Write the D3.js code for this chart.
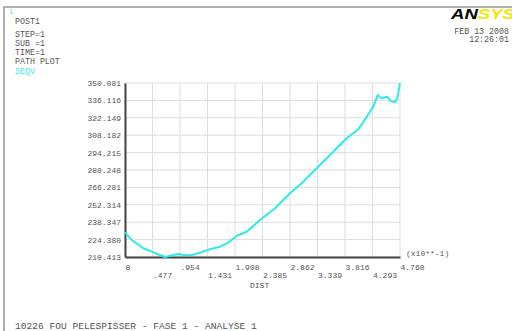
<!DOCTYPE html>
<html>
<head>
<meta charset="utf-8">
<script src="https://cdn.jsdelivr.net/npm/d3@7"></script>
<style>
  body { margin: 0; background: #fff; }
  svg { display: block; }
  text { font-family: "Liberation Mono", "DejaVu Sans Mono", monospace; fill: #555; }
</style>
</head>
<body>
<svg id="chart" width="512" height="331"></svg>
<script>
// path plot data (DIST x10**-1, SEQV)
const dist = [0, 0.116, 0.317, 0.463, 0.607, 0.694, 0.838, 0.925, 1.041, 1.157, 1.301, 1.475,
  1.648, 1.792, 1.938, 2.111, 2.342, 2.602, 2.862, 3.093, 3.325, 3.556, 3.846, 4.047,
  4.250, 4.307, 4.383, 4.453, 4.550, 4.597, 4.683, 4.723, 4.770];
const seqv = [230.2, 224.1, 217.4, 214.7, 212.0, 210.413, 212.0, 212.8, 211.8, 212.0, 213.9, 216.6,
  218.7, 221.9, 227.5, 230.7, 240.1, 249.5, 261.6, 270.9, 281.6, 292.3, 305.7, 312.9,
  327.0, 331.1, 340.4, 337.8, 339.1, 335.9, 334.6, 337.8, 350.081];

const xTicks = [0, 0.477, 0.954, 1.431, 1.908, 2.385, 2.862, 3.339, 3.816, 4.293, 4.77];
const xTickLabels = ["0", ".477", ".954", "1.431", "1.908", "2.385", "2.862", "3.339", "3.816", "4.293", "4.760"];
const yTicks = [210.413, 224.380, 238.347, 252.314, 266.281, 280.248, 294.215, 308.182, 322.149, 336.116, 350.081];

const headerLines = ["STEP=1", "SUB =1", "TIME=1", "PATH PLOT"];

const svg = d3.select("#chart");
const plotLeft = 125, plotRight = 400, plotTop = 83, plotBottom = 257;

const x = d3.scaleLinear().domain([0, 4.77]).range([plotLeft, plotRight]);
const y = d3.scaleLinear().domain([210.413, 350.081]).range([plotBottom, plotTop]);

// frame
svg.append("path")
   .attr("d", "M4,331 V7 H512")
   .attr("fill", "none")
   .attr("stroke", "#b0b0b0")
   .attr("stroke-width", 2);

// grid
svg.append("g")
   .selectAll("line")
   .data(xTicks)
   .join("line")
   .attr("x1", d => x(d)).attr("x2", d => x(d))
   .attr("y1", plotTop).attr("y2", plotBottom)
   .attr("stroke", "#ddd");
svg.append("g")
   .selectAll("line")
   .data(yTicks)
   .join("line")
   .attr("x1", plotLeft).attr("x2", plotRight)
   .attr("y1", d => y(d)).attr("y2", d => y(d))
   .attr("stroke", "#ddd");

// y axis
const yAxis = svg.append("g")
   .attr("transform", `translate(${plotLeft},0)`)
   .call(d3.axisLeft(y).tickValues(yTicks).tickFormat(d3.format(".3f")).tickSize(0).tickPadding(4));
yAxis.select(".domain").attr("stroke", "#444").attr("stroke-width", 2);
yAxis.selectAll("text")
     .style("font-family", "Liberation Mono, monospace")
     .attr("font-size", 8).attr("fill", "#555");

// x axis, labels start at tick, alternating rows
const xAxis = svg.append("g")
   .attr("transform", `translate(0,${plotBottom})`)
   .call(d3.axisBottom(x).tickValues(xTicks).tickFormat((d, i) => xTickLabels[i]).tickSize(0));
xAxis.select(".domain").attr("stroke", "#444").attr("stroke-width", 2);
xAxis.selectAll("text")
     .style("font-family", "Liberation Mono, monospace")
     .attr("font-size", 8).attr("fill", "#555")
     .attr("text-anchor", "start")
     .attr("x", 0)
     .attr("dy", null)
     .attr("y", (d, i) => i % 2 === 0 ? 13 : 21);

svg.append("text")
   .attr("x", 250).attr("y", 288)
   .attr("font-size", 8)
   .text("DIST");
svg.append("text")
   .attr("x", 406).attr("y", 256)
   .attr("font-size", 8)
   .text("(x10**-1)");

// curve
svg.append("path")
   .datum(dist.map((d, i) => [d, seqv[i]]))
   .attr("fill", "none")
   .attr("stroke", "#2eeaea")
   .attr("stroke-width", 2)
   .attr("stroke-linejoin", "round")
   .attr("d", d3.line().x(d => x(d[0])).y(d => y(d[1])));

// header text
svg.append("text").attr("x", 9).attr("y", 14).attr("font-size", 7).style("fill", "#3ee8e8").text("1");
svg.append("text").attr("x", 15).attr("y", 24).attr("font-size", 8.3).text("POST1");
svg.append("g")
   .selectAll("text")
   .data(headerLines)
   .join("text")
   .attr("x", 15)
   .attr("y", (d, i) => 37 + i * 9)
   .attr("font-size", 8.3)
   .text(d => d);
svg.append("text").attr("x", 15).attr("y", 74).attr("font-size", 8.3).style("fill", "#3ee8e8").text("SEQV");

// logo + date
const logo = svg.append("text")
   .attr("x", 451).attr("y", 19)
   .attr("textLength", 64).attr("lengthAdjust", "spacingAndGlyphs")
   .style("font-family", "Liberation Sans, Arial, sans-serif")
   .attr("font-size", 15).attr("font-weight", "bold").attr("font-style", "italic");
logo.append("tspan").style("fill", "#000").text("AN");
logo.append("tspan").style("fill", "#f2e600").text("SYS");

svg.append("text").attr("x", 509).attr("y", 34).attr("font-size", 8.3).attr("text-anchor", "end").text("FEB 13 2008");
svg.append("text").attr("x", 509).attr("y", 42).attr("font-size", 8.3).attr("text-anchor", "end").text("12:26:01");

// footer
svg.append("text").attr("x", 15).attr("y", 329).attr("font-size", 9.6)
   .text("10226 FOU PELESPISSER - FASE 1 - ANALYSE 1");
</script>
</body>
</html>
